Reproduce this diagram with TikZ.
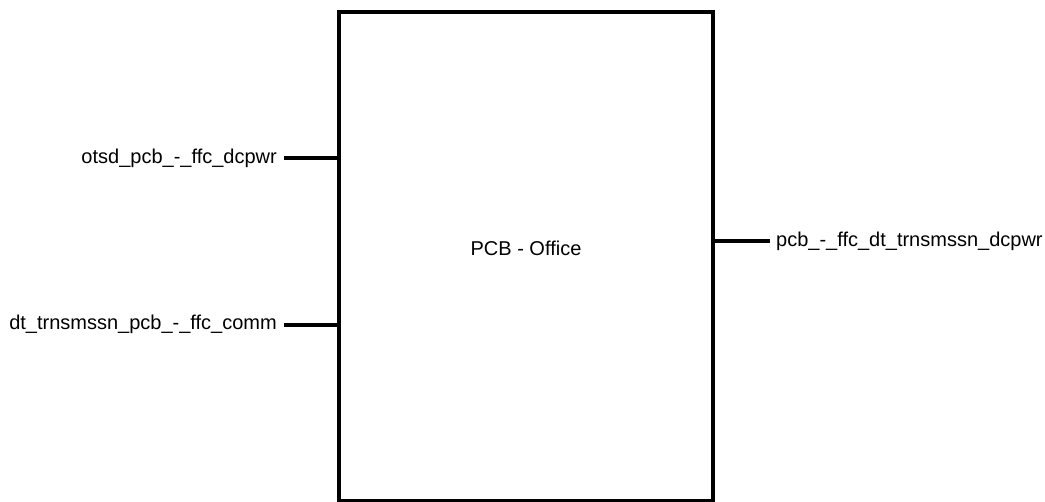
\documentclass[tikz,border=0pt]{standalone}
\usepackage{fontspec}
\setmainfont{Liberation Sans}
\begin{document}
\begin{tikzpicture}[x=1pt,y=-1pt,
  lbl/.style={inner sep=0pt, font=\fontsize{20}{24}\selectfont},
  wire/.style={line width=4pt},
  blk/.style={draw, line width=4pt, minimum width=374pt, minimum height=489pt, inner sep=0pt}]
\useasboundingbox (0,0) rectangle (1045,502);
\node[blk] (box) at (526,256.5) {};
\node[lbl, anchor=base] (title) at (526,256) {PCB - Office};
\node[lbl, anchor=base east] (in1) at (277,164) {otsd\_pcb\_-\_ffc\_dcpwr};
\node[lbl, anchor=base east] (in2) at (277,330) {dt\_trnsmssn\_pcb\_-\_ffc\_comm};
\node[lbl, anchor=base west] (out1) at (776,247) {pcb\_-\_ffc\_dt\_trnsmssn\_dcpwr};
\coordinate (s1) at (284,158);
\coordinate (s2) at (284,325);
\coordinate (s3) at (770,241);
\draw[wire] (s1) -- (s1 -| box.west);
\draw[wire] (s2) -- (s2 -| box.west);
\draw[wire] (s3) -- (s3 -| box.east);
\end{tikzpicture}
\end{document}
